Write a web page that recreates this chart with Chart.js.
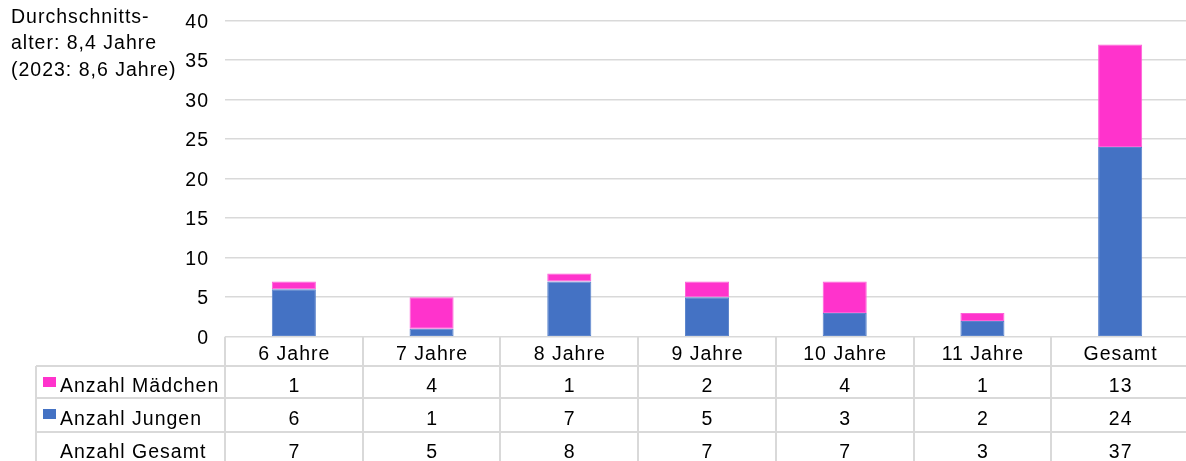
<!DOCTYPE html>
<html lang="de">
<head>
<meta charset="UTF-8">
<title>Durchschnittsalter</title>
<script src="https://cdn.jsdelivr.net/npm/chart.js"></script>
<style>
  html, body { margin: 0; padding: 0; background: #fff; overflow: hidden; }
  .wrap { position: relative; width: 1189px; height: 461px; }
</style>
</head>
<body>
<div class="wrap"><canvas id="chart"></canvas></div>
<script>
const categories = ['6 Jahre', '7 Jahre', '8 Jahre', '9 Jahre', '10 Jahre', '11 Jahre', 'Gesamt'];
const girls = [1, 4, 1, 2, 4, 1, 13];
const boys = [6, 1, 7, 5, 3, 2, 24];
const totals = [7, 5, 8, 7, 7, 3, 37];
const yTicks = [0, 5, 10, 15, 20, 25, 30, 35, 40];
const noteLines = ['Durchschnitts-', 'alter: 8,4 Jahre', '(2023: 8,6 Jahre)'];

const PINK = '#FF33CC';
const BLUE = '#4472C4';
const GRID = '#d9d9d9';
const FONT = '"Liberation Sans", Arial, sans-serif';

// y labels, data table and note, all placed from the chart's scales
const tablePlugin = {
  id: 'dataTable',
  afterDraw(chart) {
    const ctx = chart.ctx;
    const x = chart.scales.x;
    const y = chart.scales.y;
    const area = chart.chartArea;
    const step = x.getPixelForValue(1) - x.getPixelForValue(0);
    const right = area.right + 2;
    const top = area.bottom;
    const rows = [366, 398, 432];
    const bottom = 470;
    const labelLeft = 36;

    ctx.save();
    ctx.strokeStyle = GRID;
    ctx.lineWidth = 2;
    ctx.beginPath();
    for (let i = 0; i <= categories.length; i++) {
      const px = Math.round(x.getPixelForValue(i) - step / 2);
      ctx.moveTo(px, top);
      ctx.lineTo(px, bottom);
    }
    ctx.moveTo(labelLeft, rows[0]);
    ctx.lineTo(labelLeft, bottom);
    rows.forEach(r => {
      ctx.moveTo(labelLeft, r);
      ctx.lineTo(right, r);
    });
    ctx.stroke();

    ctx.fillStyle = '#000';
    ctx.font = '19.5px ' + FONT;
    ctx.letterSpacing = '1px';
    ctx.textBaseline = 'alphabetic';

    // y tick labels
    ctx.textAlign = 'right';
    yTicks.forEach(v => ctx.fillText(String(v), 209, y.getPixelForValue(v) + 7));

    ctx.textAlign = 'center';
    const rowY = [360, 392, 424.5, 458];
    categories.forEach((c, i) => {
      const cx = x.getPixelForValue(i) + 0.5;
      ctx.fillText(c, cx, rowY[0]);
      ctx.fillText(String(girls[i]), cx, rowY[1]);
      ctx.fillText(String(boys[i]), cx, rowY[2]);
      ctx.fillText(String(totals[i]), cx, rowY[3]);
    });

    ctx.textAlign = 'left';
    ctx.fillStyle = PINK;
    ctx.fillRect(43, 377, 13, 10);
    ctx.fillStyle = BLUE;
    ctx.fillRect(43, 409, 13, 10);
    ctx.fillStyle = '#000';
    ctx.fillText('Anzahl Mädchen', 60, rowY[1]);
    ctx.fillText('Anzahl Jungen', 60, rowY[2]);
    ctx.fillText('Anzahl Gesamt', 60, rowY[3]);

    noteLines.forEach((t, i) => ctx.fillText(t, 11, 22.7 + i * 26.6));
    ctx.restore();
  }
};

new Chart(document.getElementById('chart'), {
  type: 'bar',
  data: {
    labels: categories,
    datasets: [
      {
        label: 'Anzahl Jungen',
        data: boys,
        backgroundColor: BLUE,
        borderColor: '#5b84cc',
        borderWidth: 1,
        borderSkipped: false
      },
      {
        label: 'Anzahl Mädchen',
        data: girls,
        backgroundColor: PINK,
        borderColor: '#ff5fd8',
        borderWidth: 1,
        borderSkipped: false
      }
    ]
  },
  options: {
    responsive: true,
    maintainAspectRatio: false,
    animation: false,
    layout: { padding: { top: 20.7, bottom: 124.3, left: 0, right: 0 } },
    datasets: { bar: { categoryPercentage: 1, barPercentage: 0.32 } },
    plugins: {
      legend: { display: false },
      tooltip: { enabled: false }
    },
    scales: {
      x: {
        stacked: true,
        display: false
      },
      y: {
        stacked: true,
        min: 0,
        max: 40,
        afterBuildTicks: scale => { scale.ticks = yTicks.map(v => ({ value: v })); },
        afterFit: scale => { scale.width = 225; },
        border: { display: false },
        grid: { color: GRID, lineWidth: 1.5, drawTicks: false },
        ticks: { display: false }
      }
    }
  },
  plugins: [tablePlugin]
});
</script>
</body>
</html>
